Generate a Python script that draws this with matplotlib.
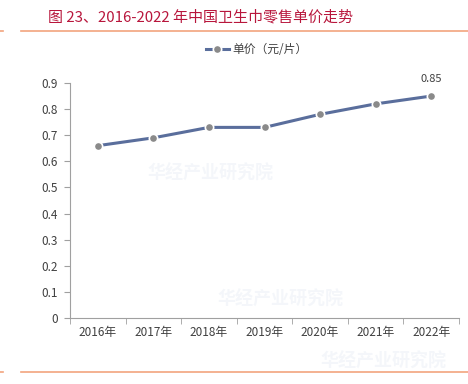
import matplotlib.pyplot as plt
from matplotlib.lines import Line2D

plt.rcParams['font.family'] = ['Liberation Sans Narrow', 'Noto Sans CJK SC', 'DejaVu Sans']

years = ['2016年', '2017年', '2018年', '2019年', '2020年', '2021年', '2022年']
price = [0.66, 0.69, 0.73, 0.73, 0.78, 0.82, 0.85]
yticks = [0, 0.1, 0.2, 0.3, 0.4, 0.5, 0.6, 0.7, 0.8, 0.9]
ytick_labels = ['0', '0.1', '0.2', '0.3', '0.4', '0.5', '0.6', '0.7', '0.8', '0.9']

fig = plt.figure(figsize=(4.68, 3.84), dpi=100)
ax = fig.add_axes([70/468, 1-318/384, 389/468, 235/384])

x = list(range(len(years)))
ax.plot(x, price, color='#5a6e9c', lw=2.2, marker='o', ms=6,
        mfc='#8a8a8a', mec='white', mew=1.2, label='单价（元/片）', zorder=3)
ax.annotate('0.85', (x[-1], price[-1]), xytext=(0, 9), textcoords='offset points',
            ha='center', va='bottom', fontsize=8, color='#404040')

ax.set_xlim(-0.5, len(years) - 0.5)
ax.set_ylim(0, 0.9)
ax.set_yticks(yticks)
ax.set_yticklabels(ytick_labels, fontsize=8.5, color='#404040')
ax.set_xticks(x)
ax.set_xticklabels(years, fontsize=8.5, color='#404040')
ax.set_xticks([i - 0.5 for i in range(len(years) + 1)], minor=True)
ax.tick_params(axis='x', which='major', length=0, pad=6)
ax.tick_params(axis='x', which='minor', length=4, color='#a0a0a0')
ax.tick_params(axis='y', length=4, color='#a0a0a0', pad=5)
for s in ['top', 'right']:
    ax.spines[s].set_visible(False)
for s in ['left', 'bottom']:
    ax.spines[s].set_color('#a0a0a0')
    ax.spines[s].set_linewidth(0.8)

leg = ax.legend(loc='lower center', bbox_to_anchor=(0.48, 1.07), frameon=False,
                fontsize=8.5, handlelength=2.0, handletextpad=0.3)
for t in leg.get_texts():
    t.set_color('#404040')

# faint watermarks
for wx, wy in [(0.45, 0.55), (0.60, 0.22), (0.82, 0.06)]:
    fig.text(wx, wy, '华经产业研究院', fontsize=13, color='#3060a0', alpha=0.05,
             family=['Noto Sans CJK SC'], ha='center', va='center', weight='bold')

fig.text(48/468, 1-17/384, '图 23、2016-2022 年中国卫生巾零售单价走势', fontsize=10.8,
         color='#b8163c', va='center', ha='left', family=['Noto Sans CJK SC', 'DejaVu Sans'])

orange = '#f2a47e'
for yy in [31, 372]:
    fig.add_artist(Line2D([0, 3/468], [1-yy/384]*2, color=orange, lw=1.2))
    fig.add_artist(Line2D([21/468, 1], [1-yy/384]*2, color=orange, lw=1.2))

fig.savefig('out.png', dpi=100)
